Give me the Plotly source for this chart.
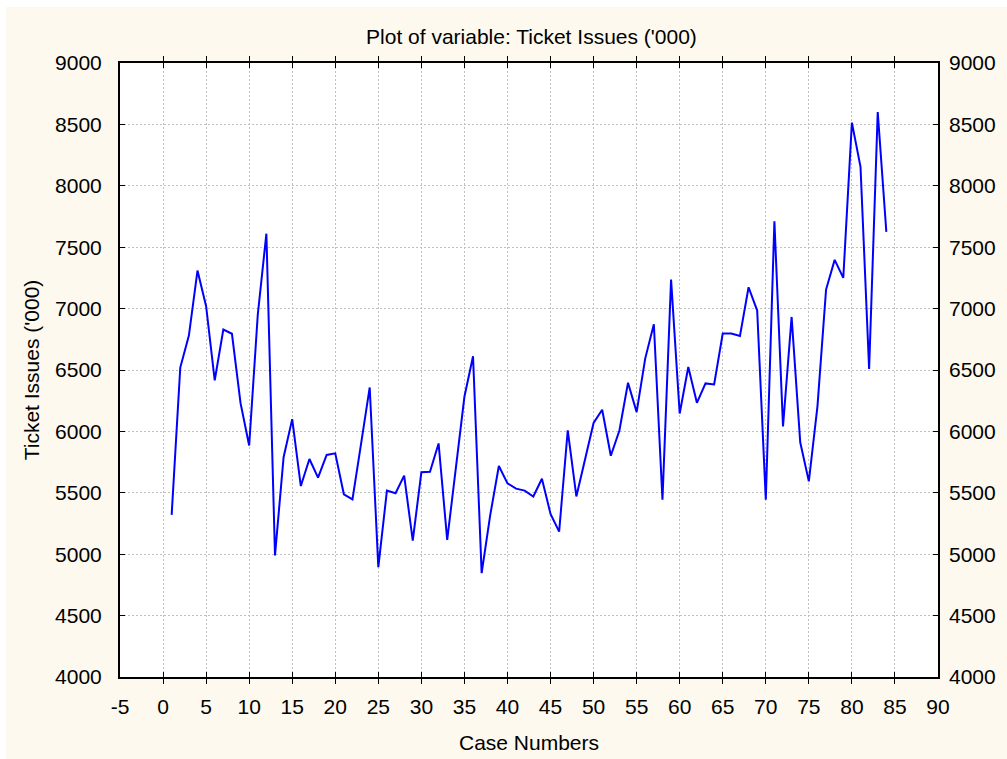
import plotly.graph_objects as go

# Ticket issues ('000) recorded for each case
case_numbers = list(range(1, 85))
ticket_issues = [
    5320, 6520, 6780, 7310, 7020, 6415, 6830, 6795, 6230, 5885,
    6950, 7610, 4990, 5790, 6100, 5555, 5775, 5623, 5808, 5821,
    5488, 5447, 5900, 6358, 4894, 5518, 5496, 5640, 5111, 5667,
    5672, 5902, 5116, 5700, 6282, 6612, 4846, 5320, 5718, 5577,
    5534, 5518, 5470, 5614, 5328, 5184, 6009, 5470, 5770, 6069,
    6176, 5802, 6007, 6396, 6157, 6595, 6873, 5443, 7236, 6146,
    6524, 6233, 6391, 6383, 6797, 6797, 6777, 7174, 6984, 5443,
    7712, 6041, 6932, 5911, 5593, 6204, 7155, 7397, 7250, 8514,
    8155, 6508, 8601, 7625,
]

x_range = [-5, 90]
y_range = [4000, 9000]
x_ticks = list(range(-5, 91, 5))
x_tick_text = [str(v) for v in x_ticks]  # plain hyphen for "-5"
y_ticks = list(range(4000, 9001, 500))

FONT = "Liberation Sans, Arial, Helvetica, sans-serif"
CREAM = "#fdf9ee"
GRID = "#c0c0c0"

fig = go.Figure()
fig.add_trace(go.Scatter(
    x=case_numbers, y=ticket_issues, mode="lines",
    line=dict(color="#0000ff", width=2), showlegend=False,
    hoverinfo="x+y",
))
# invisible companion trace so the right-hand value axis is drawn
fig.add_trace(go.Scatter(
    x=case_numbers, y=ticket_issues, mode="lines", yaxis="y2",
    line=dict(color="rgba(0,0,0,0)"), showlegend=False, hoverinfo="skip",
))

common_axis = dict(
    showline=True, linecolor="black", linewidth=2,
    ticks="inside", ticklen=5, tickcolor="black", tickwidth=1,
    showgrid=True, gridcolor=GRID, gridwidth=1, griddash="2px,2px",
    zeroline=False, automargin=False,
    tickfont=dict(family=FONT, size=21, color="black"),
)

fig.update_layout(
    width=1007, height=759,
    margin=dict(l=120, r=69, t=63, b=82),
    paper_bgcolor=CREAM, plot_bgcolor="white",
    font=dict(family=FONT, size=21, color="black"),
    title=dict(text="Plot of variable: Ticket Issues ('000)",
               x=0.503, xref="paper", xanchor="center",
               y=1 - 37 / 759, yref="container", yanchor="middle",
               font=dict(family=FONT, size=21, color="black")),
    xaxis=dict(
        range=x_range, tickmode="array", tickvals=x_ticks, ticktext=x_tick_text,
        mirror="allticks", ticklabelstandoff=10,
        title=dict(text="Case Numbers", standoff=18,
                   font=dict(family=FONT, size=21, color="black")),
        **common_axis,
    ),
    yaxis=dict(
        range=y_range, tickmode="array", tickvals=y_ticks,
        mirror="allticks", ticklabelstandoff=12,
        title=dict(text="Ticket Issues ('000)", standoff=10,
                   font=dict(family=FONT, size=21, color="black")),
        **common_axis,
    ),
    yaxis2=dict(
        range=y_range, tickmode="array", tickvals=y_ticks,
        overlaying="y", side="right", showgrid=False, showline=False,
        ticks="", zeroline=False, ticklabelstandoff=10, automargin=False,
        tickfont=dict(family=FONT, size=21, color="black"),
    ),
)

# thin white border along the top and left edges of the page
fig.add_shape(type="rect", xref="paper", yref="paper",
              x0=-0.16, x1=1.1, y0=1 + (63 - 7) / 614, y1=1.2,
              fillcolor="white", line=dict(width=0), layer="below")
fig.add_shape(type="rect", xref="paper", yref="paper",
              x0=-0.2, x1=-(120 - 6) / 818, y0=-0.2, y1=1.2,
              fillcolor="white", line=dict(width=0), layer="below")

fig.write_html("out.html")
